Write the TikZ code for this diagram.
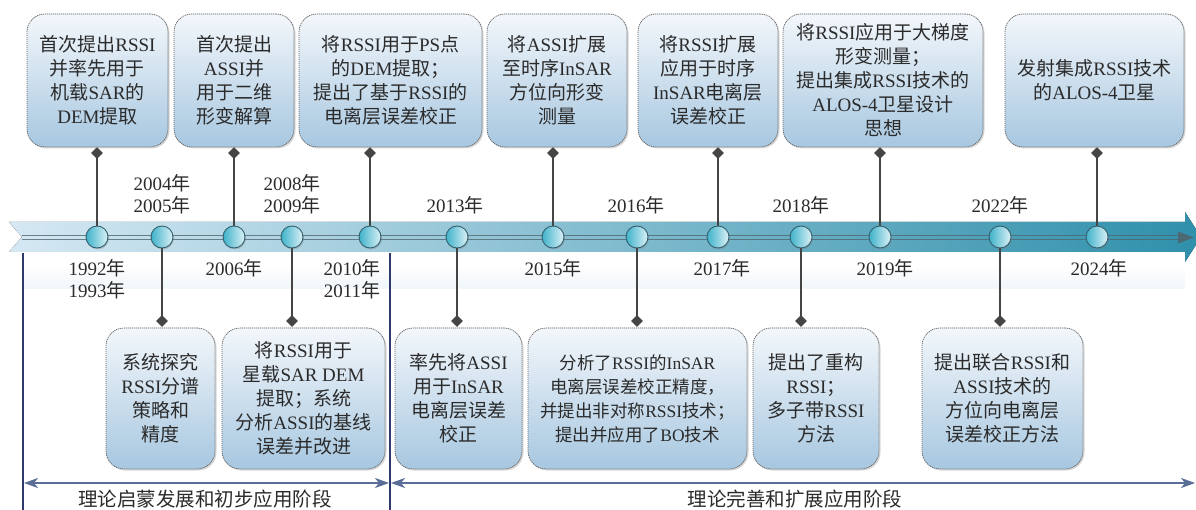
\documentclass[tikz,border=0pt]{standalone}
\usepackage{fontspec}
\setmainfont{Liberation Serif}
\newfontfamily\latinfont{Liberation Serif}
\newfontfamily\cjkfont{Noto Sans CJK SC}
\XeTeXinterchartokenstate=1
\newXeTeXintercharclass\cjkcls
\newcount\mycnt
\mycnt="4E00
\loop \XeTeXcharclass\mycnt=\cjkcls \ifnum\mycnt<"9FFF \advance\mycnt by 1 \repeat
\mycnt="3000
\loop \XeTeXcharclass\mycnt=\cjkcls \ifnum\mycnt<"303F \advance\mycnt by 1 \repeat
\mycnt="FF00
\loop \XeTeXcharclass\mycnt=\cjkcls \ifnum\mycnt<"FFEF \advance\mycnt by 1 \repeat
\XeTeXinterchartoks 0 \cjkcls = {\cjkfont}
\XeTeXinterchartoks 4095 \cjkcls = {\cjkfont}
\XeTeXinterchartoks \cjkcls 0 = {\latinfont}
\XeTeXinterchartoks \cjkcls 4095 = {\latinfont}
\XeTeXinterchartoks 4095 0 = {\latinfont}
\usetikzlibrary{shadows,arrows.meta,shapes.geometric}
\definecolor{boxtop}{HTML}{F3F7FB}
\definecolor{boxbot}{HTML}{A7C7E0}
\definecolor{boxline}{HTML}{5E5E5E}
\definecolor{txt}{HTML}{2B2B2B}
\definecolor{bandL}{HTML}{D5E8F3}
\definecolor{bandR}{HTML}{2F90AB}
\definecolor{circL}{HTML}{3DB2CA}
\definecolor{circR}{HTML}{DDF1F6}
\definecolor{circline}{HTML}{35606F}
\definecolor{conn}{HTML}{454545}
\definecolor{phase}{HTML}{5B6E97}
\definecolor{divider}{HTML}{2E3A6B}
\definecolor{midline}{HTML}{4F6670}
\definecolor{refl}{HTML}{E6F1F7}
\begin{document}
\begin{tikzpicture}[x=1pt,y=-1pt,
  evbox/.style={draw=boxline, line width=0.7pt, dash pattern=on 1.2pt off 0.8pt,
    rounded corners=18pt, top color=boxtop, bottom color=boxbot, align=center,
    text=txt, font=\fontsize{19}{24}\selectfont, inner sep=0pt,
    drop shadow={shadow xshift=1.5pt, shadow yshift=-1.5pt, opacity=0.3}},
  dot/.style={circle, minimum size=22pt, inner sep=0pt, draw=circline, line width=0.9pt,
    left color=circL, right color=circR,
    drop shadow={shadow xshift=1pt, shadow yshift=-1.5pt, opacity=0.35}},
  dia/.style={diamond, fill=conn, minimum size=12pt, inner sep=0pt},
  connline/.style={draw=conn, line width=1.2pt},
  yr/.style={font=\fontsize{19}{22}\selectfont, text=txt, align=center, inner sep=0pt},
  divline/.style={draw=divider, line width=1.6pt},
  phasearrow/.style={draw=phase, line width=2pt, {Stealth[length=14pt,width=10pt,inset=4pt]}-{Stealth[length=14pt,width=10pt,inset=4pt]}},
  phaselbl/.style={font=\fontsize{19.5}{22}\selectfont, text=txt, inner sep=0pt}
]
\useasboundingbox (0,0) rectangle (1196,510);
\fill[white] (0,0) rectangle (1196,510);

% faint reflection under the band
\shade[top color=white, bottom color=refl, opacity=0.6] (22,266) rectangle (1185,289);

% band
\fill[left color=bandL, right color=bandR] (9,222) -- (1185,222) -- (1185,212) -- (1201,237)
  -- (1185,262) -- (1185,252) -- (9,252) -- (22,237) -- cycle;
\draw[midline, line width=0.8pt, opacity=0.8] (22,235.8) -- (1186,235.8);
\draw[midline, line width=0.8pt, opacity=0.8] (22,239.2) -- (1186,239.2);
\fill[midline, opacity=0.9] (1178,231.5) -- (1194,237.5) -- (1178,243.5) -- cycle;

% dividers and phase arrows
\draw[divline] (23,253) -- (23,510);
\draw[divline] (390,253) -- (390,510);
\coordinate (L0) at (24,483);
\coordinate (L1) at (389,483);
\coordinate (R0) at (391,483);
\coordinate (R1) at (1195,483);
\draw[phasearrow] (L0) -- (L1);
\draw[phasearrow] (R0) -- (R1);
\node[phaselbl] (ph1) at (205,499) {理论启蒙发展和初步应用阶段};
\node[phaselbl] (ph2) at (795,499) {理论完善和扩展应用阶段};

% timeline points
\node[dot] (p1) at (97,237) {};
\node[dot] (p2) at (162,237) {};
\node[dot] (p3) at (234,237) {};
\node[dot] (p4) at (292,237) {};
\node[dot] (p5) at (370,237) {};
\node[dot] (p6) at (457,237) {};
\node[dot] (p7) at (553,237) {};
\node[dot] (p8) at (637,237) {};
\node[dot] (p9) at (718,237) {};
\node[dot] (p10) at (801,237) {};
\node[dot] (p11) at (880,237) {};
\node[dot] (p12) at (1000,237) {};
\node[dot] (p13) at (1097,237) {};

% years
\node[yr] (y1) at (97,279.5) {1992年\\1993年};
\node[yr] (y2) at (162,194) {2004年\\2005年};
\node[yr] (y3) at (234,268) {2006年};
\node[yr] (y4) at (292,194) {2008年\\2009年};
\node[yr] (y5) at (352,279.5) {2010年\\2011年};
\node[yr] (y6) at (455,205) {2013年};
\node[yr] (y7) at (553,268) {2015年};
\node[yr] (y8) at (636,205) {2016年};
\node[yr] (y9) at (722,268) {2017年};
\node[yr] (y10) at (801,205) {2018年};
\node[yr] (y11) at (885,268) {2019年};
\node[yr] (y12) at (1000,205) {2022年};
\node[yr] (y13) at (1099,268) {2024年};

% diamonds
\node[dia] (d1) at (97,153) {};
\node[dia] (d3) at (234,153) {};
\node[dia] (d5) at (370,153) {};
\node[dia] (d7) at (553,153) {};
\node[dia] (d9) at (718,153) {};
\node[dia] (d11) at (880,153) {};
\node[dia] (d13) at (1097,153) {};
\node[dia] (e2) at (162,321) {};
\node[dia] (e4) at (292,321) {};
\node[dia] (e6) at (457,321) {};
\node[dia] (e8) at (637,321) {};
\node[dia] (e10) at (801,321) {};
\node[dia] (e12) at (1000,321) {};

% connectors
\foreach \i in {1,3,5,7,9,11,13} { \draw[connline] (d\i.center) -- (p\i.north); }
\foreach \i in {2,4,6,8,10,12} { \draw[connline] (p\i.south) -- (e\i.center); }

% top boxes
\node[evbox, minimum width=141pt, minimum height=133pt] (b1) at (97.5,80.5)
  {首次提出RSSI\\并率先用于\\机载SAR的\\DEM提取};
\node[evbox, minimum width=120pt, minimum height=133pt] (b2) at (234,80.5)
  {首次提出\\ASSI并\\用于二维\\形变解算};
\node[evbox, minimum width=183pt, minimum height=133pt] (b3) at (390.5,80.5)
  {将RSSI用于PS点\\的DEM提取；\\提出了基于RSSI的\\电离层误差校正};
\node[evbox, minimum width=140pt, minimum height=133pt] (b4) at (557,80.5)
  {将ASSI扩展\\至时序InSAR\\方位向形变\\测量};
\node[evbox, minimum width=140pt, minimum height=133pt] (b5) at (708,80.5)
  {将RSSI扩展\\应用于时序\\InSAR电离层\\误差校正};
\node[evbox, minimum width=200pt, minimum height=133pt] (b6) at (883,80.5)
  {将RSSI应用于大梯度\\形变测量；\\提出集成RSSI技术的\\ALOS-4卫星设计\\思想};
\node[evbox, minimum width=179pt, minimum height=133pt] (b7) at (1094.5,80.5)
  {发射集成RSSI技术\\的ALOS-4卫星};

% bottom boxes
\node[evbox, minimum width=109pt, minimum height=141pt] (c1) at (160.5,398.5)
  {系统探究\\RSSI分谱\\策略和\\精度};
\node[evbox, minimum width=163pt, minimum height=141pt] (c2) at (303.5,398.5)
  {将RSSI用于\\星载SAR DEM\\提取；系统\\分析ASSI的基线\\误差并改进};
\node[evbox, minimum width=127pt, minimum height=141pt] (c3) at (458.5,398.5)
  {率先将ASSI\\用于InSAR\\电离层误差\\校正};
\node[evbox, minimum width=219pt, minimum height=141pt, font=\fontsize{17.5}{24}\selectfont] (c4) at (637.5,398.5)
  {分析了RSSI的InSAR\\电离层误差校正精度，\\并提出非对称RSSI技术；\\提出并应用了BO技术};
\node[evbox, minimum width=126pt, minimum height=141pt] (c5) at (816,398.5)
  {提出了重构\\RSSI；\\多子带RSSI\\方法};
\node[evbox, minimum width=161pt, minimum height=141pt] (c6) at (1002.5,398.5)
  {提出联合RSSI和\\ASSI技术的\\方位向电离层\\误差校正方法};
\end{tikzpicture}
\end{document}
